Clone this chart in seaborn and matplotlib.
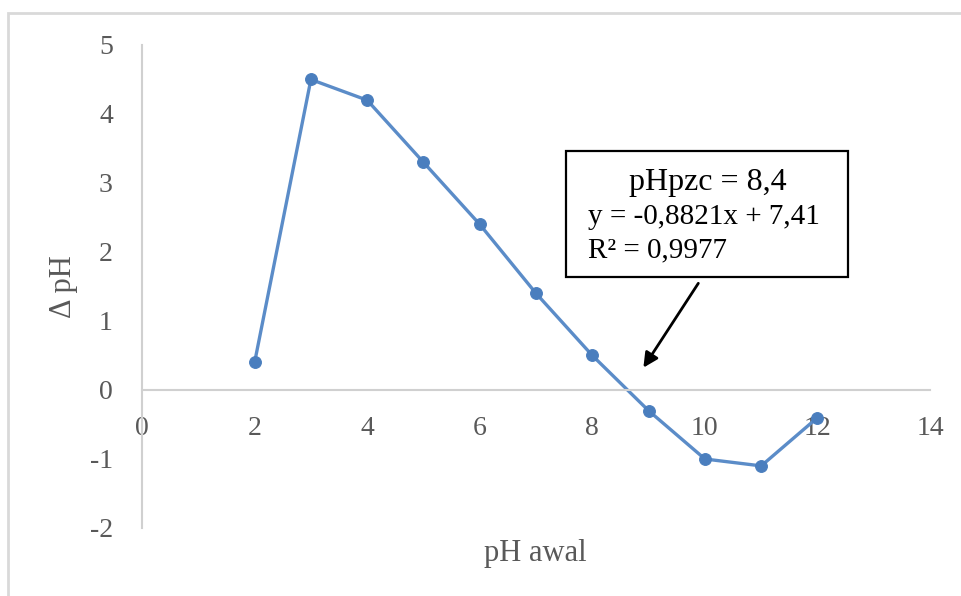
import numpy as np
import pandas as pd
import matplotlib
matplotlib.use("Agg")
import matplotlib.pyplot as plt
from matplotlib.patches import Rectangle
import seaborn as sns

# Initial pH vs. change in pH (salt-addition method)
ph_awal = [2, 3, 4, 5, 6, 7, 8, 9, 10, 11, 12]
delta_ph = [0.4, 4.5, 4.2, 3.3, 2.4, 1.4, 0.5, -0.3, -1.0, -1.1, -0.4]

x_ticks = [0, 2, 4, 6, 8, 10, 12, 14]
y_ticks = [-2, -1, 0, 1, 2, 3, 4, 5]

box_lines = ["pHpzc = 8,4", "y = -0,8821x + 7,41", "R² = 0,9977"]

df = pd.DataFrame({"pH awal": ph_awal, "delta": delta_ph})

sns.set_style("white")
plt.rcParams["font.family"] = ["Liberation Serif", "DejaVu Serif"]

fig = plt.figure(figsize=(9.61, 5.96), dpi=100)
ax = fig.add_axes([0.1478, 0.1141, 0.8200, 0.8104])

sns.lineplot(data=df, x="pH awal", y="delta", ax=ax, color="#5B8CC8",
             linewidth=2.4, marker="o", markersize=8.5,
             markerfacecolor="#4A7EBE", markeredgecolor="#4A7EBE")

ax.set_xlim(0, 14)
ax.set_ylim(-2, 5)
ax.set_xticks(x_ticks)
ax.set_yticks(y_ticks)
ax.set_xticklabels([str(v) for v in x_ticks])
ax.set_yticklabels([str(v) for v in y_ticks])

grey = "#595959"
for side in ["top", "right"]:
    ax.spines[side].set_visible(False)
ax.spines["bottom"].set_position(("data", 0))
for side in ["bottom", "left"]:
    ax.spines[side].set_color("#d0d0d0")
    ax.spines[side].set_linewidth(1.5)

ax.tick_params(axis="x", length=0, pad=19, labelsize=20, labelcolor=grey)
ax.tick_params(axis="y", length=0, pad=21, labelsize=20, labelcolor=grey)

ax.set_xlabel("")
ax.set_ylabel("")
fig.text(535 / 961, 1 - 553 / 596, "pH awal", ha="center", va="center",
         fontsize=22, color=grey)
fig.text(63 / 961, 1 - 287 / 596, "Δ pH", ha="center", va="center",
         fontsize=22, color=grey, rotation=90)

# Annotation box with the linear fit around the zero crossing
ax.add_patch(Rectangle((7.53, 1.64), 12.54 - 7.53, 3.46 - 1.64,
                       facecolor="white", edgecolor="black", linewidth=1.6,
                       zorder=5))
ax.text(10.06, 3.01, box_lines[0], ha="center", va="center",
        fontsize=23, color="black", zorder=6)
ax.text(7.92, 2.51, box_lines[1], ha="left", va="center",
        fontsize=21, color="black", zorder=6)
ax.text(7.92, 2.03, box_lines[2], ha="left", va="center",
        fontsize=21, color="black", zorder=6)

ax.annotate("", xy=(8.88, 0.29), xytext=(9.91, 1.58),
            arrowprops=dict(arrowstyle="-|>", color="black", lw=2,
                            mutation_scale=22), zorder=6)

# Light frame around the chart area
fig.patches.append(Rectangle((8 / 961, -0.01), 1.0, 1 - 13 / 596 + 0.01,
                             transform=fig.transFigure, fill=False,
                             edgecolor="#d9d9d9", linewidth=2))

fig.savefig("out.png", dpi=100)
